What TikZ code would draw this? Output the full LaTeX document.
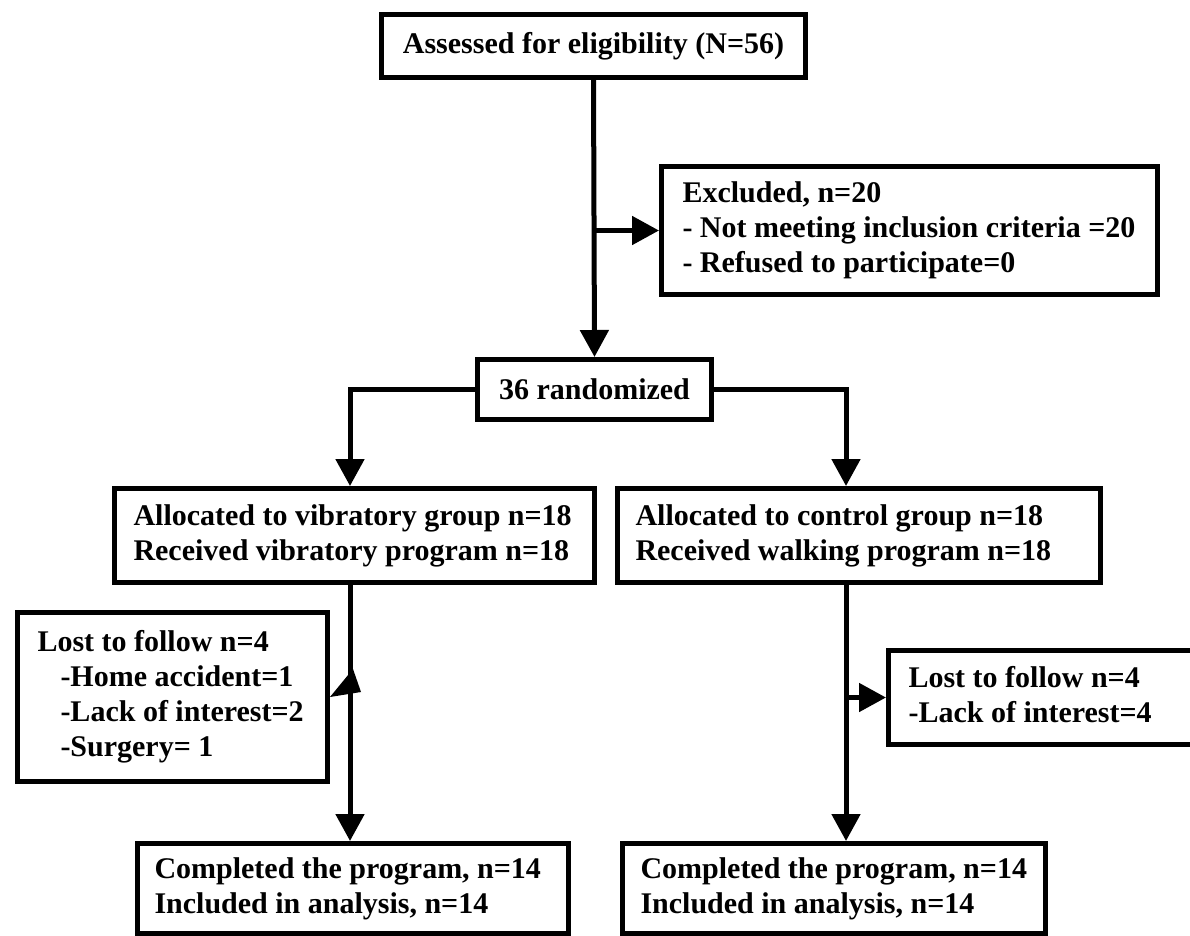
\documentclass[tikz,border=0pt]{standalone}
\usepackage{fontspec}
\setmainfont{Liberation Serif}
\usetikzlibrary{arrows.meta,calc}
\newcommand{\flowtext}[3]{\makebox[#1][l]{\hspace*{#2}\begin{tabular}{@{}l@{}}#3\end{tabular}}}
\tikzset{
  box/.style={draw, line width=5pt, anchor=north west, inner sep=0pt,
    font=\bfseries\fontsize{30}{35}\selectfont},
  conn/.style={line width=5pt, -{Triangle[length=27pt,width=28pt]}},
  plainline/.style={line width=5pt}
}
\begin{document}
\begin{tikzpicture}[x=1pt,y=-1pt]
\useasboundingbox (0,0) rectangle (1190,935);
\clip (0,0) rectangle (1190,935);
\node[box, minimum width=424pt, minimum height=63pt] (top) at (379,12) {Assessed for eligibility (N=56)};
\node[box, minimum height=128pt] (excl) at (659,164) {\flowtext{496pt}{21pt}{Excluded, n=20\\- Not meeting inclusion criteria =20\\- Refused to participate=0}};
\node[box, minimum width=234pt, minimum height=60pt] (rand) at (475,357) {36 randomized};
\node[box, minimum height=94pt] (allocL) at (112,486) {\flowtext{480pt}{19pt}{Allocated to vibratory group n=18\\Received vibratory program n=18}};
\node[box, minimum height=94pt] (allocR) at (615,486) {\flowtext{483pt}{18pt}{Allocated to control group n=18\\Received walking program n=18}};
\node[box, minimum height=169pt] (lostL) at (15,610) {\flowtext{310pt}{20pt}{Lost to follow n=4\\\hspace*{23pt}-Home accident=1\\\hspace*{23pt}-Lack of interest=2\\\hspace*{23pt}-Surgery= 1}};
\node[box, minimum height=94pt] (lostR) at (886,648) {\flowtext{330pt}{20pt}{Lost to follow n=4\\-Lack of interest=4}};
\node[box, minimum height=90pt] (compL) at (135,841) {\flowtext{431pt}{17pt}{Completed the program, n=14\\Included in analysis, n=14}};
\node[box, minimum height=90pt] (compR) at (620,841) {\flowtext{423pt}{18pt}{Completed the program, n=14\\Included in analysis, n=14}};
\coordinate (lcol) at (350,0);
\coordinate (rcol) at (846,0);
\draw[conn] (top.south) -- (rand.north);
\draw[conn] (top.south |- excl.west) -- (excl.west);
\draw[conn] (rand.west) -| (lcol |- allocL.north);
\draw[conn] (rand.east) -| (rcol |- allocR.north);
\draw[conn] (lcol |- allocL.south) -- (lcol |- compL.north);
\draw[conn] (rcol |- allocR.south) -- (rcol |- compR.north);
\draw[conn] (rcol |- lostR.west) -- (lostR.west);
\fill (lostL.east) -- ++(23,-28) -- ++(8,23) -- cycle;
\end{tikzpicture}
\end{document}
